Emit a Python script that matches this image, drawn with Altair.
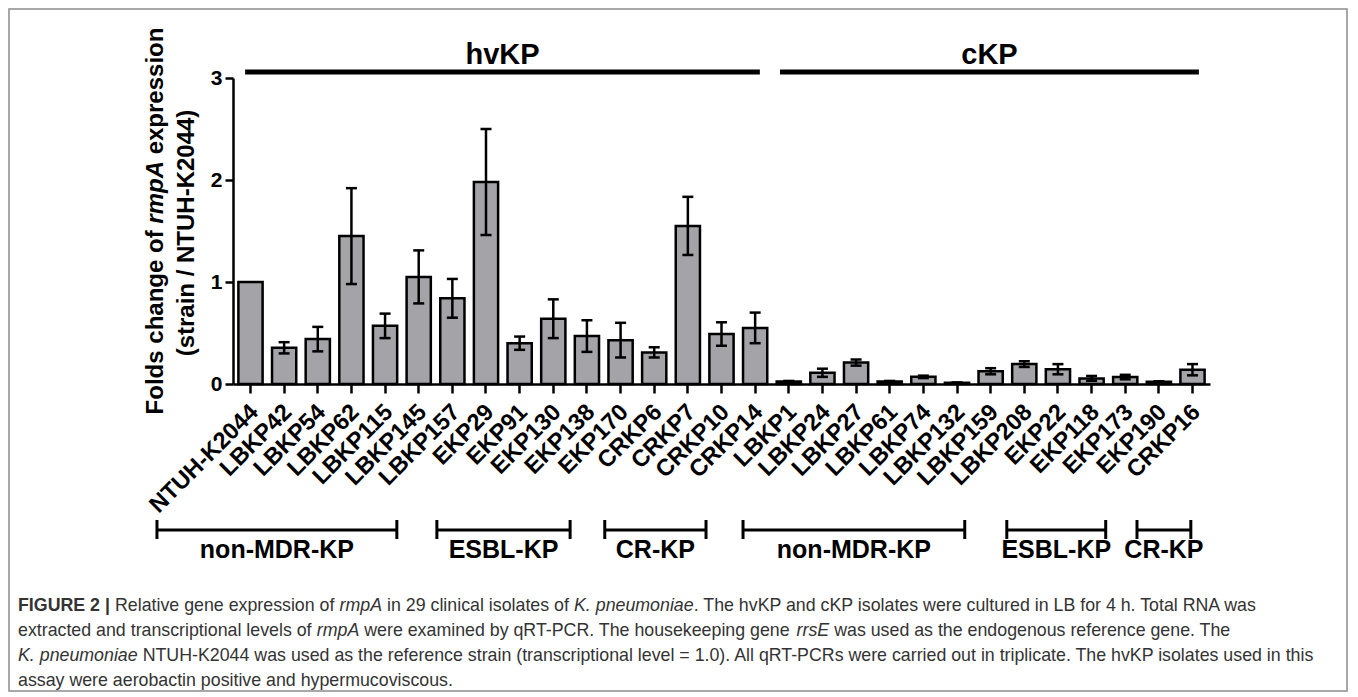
import altair as alt
import pandas as pd

# ---------------- data ----------------
strains = ["NTUH-K2044", "LBKP42", "LBKP54", "LBKP62", "LBKP115", "LBKP145",
           "LBKP157", "EKP29", "EKP91", "EKP130", "EKP138", "EKP170", "CRKP6",
           "CRKP7", "CRKP10", "CRKP14",
           "LBKP1", "LBKP24", "LBKP27", "LBKP61", "LBKP74", "LBKP132", "LBKP159",
           "LBKP208", "EKP22", "EKP118", "EKP173", "EKP190", "CRKP16"]
fold_change = [1.00, 0.355, 0.44, 1.45, 0.57, 1.05, 0.84, 1.98, 0.40, 0.64, 0.47, 0.43, 0.31,
               1.55, 0.49, 0.55,
               0.025, 0.11, 0.21, 0.025, 0.07, 0.012, 0.125, 0.195, 0.145, 0.055, 0.068, 0.022, 0.14]
fold_sd = [0.0, 0.055, 0.12, 0.47, 0.12, 0.26, 0.19, 0.52, 0.065, 0.19, 0.155, 0.17, 0.05,
           0.285, 0.115, 0.15,
           0.005, 0.04, 0.03, 0.005, 0.012, 0.003, 0.03, 0.028, 0.05, 0.024, 0.022, 0.005, 0.055]

# group lines over the bars (positions on the category axis, in bar-index units)
line_names = ["hvKP", "cKP"]
line_start = [-0.16, 15.74]
line_end = [15.14, 28.19]

# brackets under the labels (positions on the category axis, in bar-index units)
bracket_names = ["non-MDR-KP", "ESBL-KP", "CR-KP", "non-MDR-KP", "ESBL-KP", "CR-KP"]
bracket_start = [-2.78, 5.54, 10.53, 14.64, 22.48, 26.35]
bracket_end = [4.35, 9.50, 13.54, 21.23, 25.42, 27.95]

y_ticks = [0, 1, 2, 3]

caption_lines = [
    [("FIGURE 2 | ", "bold"), ("Relative gene expression of ", "regular"), ("rmpA", "italic"),
     (" in 29 clinical isolates of ", "regular"), ("K. pneumoniae", "italic"),
     (". The hvKP and cKP isolates were cultured in LB for 4 h. Total RNA was", "regular")],
    [("extracted and transcriptional levels of ", "regular"), ("rmpA", "italic"),
     (" were examined by qRT-PCR. The housekeeping gene ", "regular"), ("rrsE", "italic"),
     (" was used as the endogenous reference gene. The", "regular")],
    [("K. pneumoniae", "italic"),
     (" NTUH-K2044 was used as the reference strain (transcriptional level = 1.0). All qRT-PCRs were carried out in triplicate. The hvKP isolates used in this", "regular")],
    [("assay were aerobactin positive and hypermucoviscous.", "regular")],
]
ytitle_line1 = [("Folds change of ", "bold"), ("rmpA", "bolditalic"), (" expression", "bold")]
ytitle_line2 = "(strain / NTUH-K2044)"

# ---------------- layout / style ----------------
FONT = "Liberation Sans"
W, H = 977, 306
PAD = {"left": 225, "top": 70, "right": 138, "bottom": 308}
N = len(strains)
P_IN, P_OUT = 0.28, 0.16
OFF = P_OUT + (1 - P_IN) / 2
band = alt.Scale(domain=strains, paddingInner=P_IN, paddingOuter=P_OUT)
idx_scale = alt.Scale(domain=[-OFF, -OFF + N - P_IN + 2 * P_OUT], nice=False, zero=False)
yscale = alt.Scale(domain=[0, 3], nice=False)

# Arial / Liberation Sans advance widths (1/1000 em)
UP = "ABCDEFGHIJKLMNOPQRSTUVWXYZ"
LO = "abcdefghijklmnopqrstuvwxyz"
REG = dict(zip(UP, [667, 667, 722, 722, 667, 611, 778, 722, 278, 500, 667, 556, 833, 722, 778, 667,
                    778, 722, 667, 611, 722, 667, 944, 667, 667, 611]))
REG.update(zip(LO, [556, 556, 500, 556, 556, 278, 556, 556, 222, 222, 500, 222, 833, 556, 556, 556,
                    556, 333, 500, 278, 556, 500, 722, 500, 500, 500]))
REG.update({c: 556 for c in "0123456789"})
REG.update({" ": 278, ".": 278, ",": 278, "-": 333, "(": 333, ")": 333, "=": 584, "|": 260, "/": 278})
BOLD = dict(zip(UP, [722, 722, 722, 722, 667, 611, 778, 722, 278, 556, 722, 611, 833, 722, 778, 667,
                     778, 722, 667, 611, 722, 667, 944, 667, 667, 611]))
BOLD.update(zip(LO, [556, 611, 556, 611, 556, 333, 611, 611, 278, 278, 556, 278, 889, 611, 611, 611,
                     611, 389, 556, 333, 611, 556, 778, 556, 556, 500]))
BOLD.update({c: 556 for c in "0123456789"})
BOLD.update({" ": 278, ".": 278, ",": 278, "-": 333, "(": 333, ")": 333, "=": 584, "|": 280, "/": 278})


def tw(s, style, size):
    table = BOLD if "bold" in style else REG
    return sum(table.get(ch, 556) for ch in s) * size / 1000.0


def layout(segments, size):
    """return list of (offset, text, style) with trimmed texts, and total width"""
    out, pos = [], 0.0
    for text, style in segments:
        core = text.strip(" ")
        lead = len(text) - len(text.lstrip(" "))
        trail = len(text) - len(text.rstrip(" "))
        pos += tw(" " * lead, style, size)
        out.append((pos, core, style))
        pos += tw(core, style, size) + tw(" " * trail, style, size)
    return out, pos


# ---------------- frames ----------------
df = pd.DataFrame({"strain": strains, "value": fold_change, "sd": fold_sd})
df["lo"] = df["value"] - df["sd"]
df["hi"] = df["value"] + df["sd"]
df_err = df[df["sd"] > 0]
df_caps = pd.concat([df_err[["strain", "lo"]].rename(columns={"lo": "yv"}),
                     df_err[["strain", "hi"]].rename(columns={"hi": "yv"})])

df_lines = pd.DataFrame({"name": line_names, "start": line_start, "end": line_end})
df_lines["mid"] = (df_lines["start"] + df_lines["end"]) / 2
df_br = pd.DataFrame({"name": bracket_names, "start": bracket_start, "end": bracket_end})
df_br["mid"] = (df_br["start"] + df_br["end"]) / 2
df_brcaps = pd.DataFrame({"pos": bracket_start + bracket_end})

# caption segments
CAP_SIZE = 17.8
CAP_X0 = -215
CAP_Y = [528, 553, 578, 603]
cap_rows = []
for li, segs in enumerate(caption_lines):
    lay, _ = layout(segs, CAP_SIZE)
    for off, text, style in lay:
        cap_rows.append({"px": CAP_X0 + off, "py": CAP_Y[li], "text": text, "style": style})
df_cap = pd.DataFrame(cap_rows)

# y title segments (rotated, reading bottom to top)
TT_SIZE = 24
lay1, tot1 = layout(ytitle_line1, TT_SIZE)
L1_X, L1_YC = -77, 143
bottom1 = L1_YC + tot1 / 2
tt_rows = [{"px": L1_X, "py": bottom1 - off, "text": text, "style": style} for off, text, style in lay1]
df_tt = pd.DataFrame(tt_rows)
df_tt2 = pd.DataFrame({"px": [-46], "py": [155], "text": [ytitle_line2]})

# ---------------- layers ----------------
x_band_noaxis = alt.X("strain:N", sort=strains, scale=band, axis=None)

frame = alt.Chart(pd.DataFrame({"a": [0]})).mark_rect(
    fillOpacity=0, stroke="#8c8c8c", strokeWidth=1.5
).encode(x=alt.value(-224), x2=alt.value(1114), y=alt.value(-69), y2=alt.value(613))

bars = alt.Chart(df).mark_bar(fill="#a3a3a8", stroke="black", strokeWidth=2.5).encode(
    x=alt.X("strain:N", sort=strains, scale=band,
            axis=alt.Axis(title=None, labelAngle=-45, labelAlign="right", labelBaseline="middle",
                          labelFont=FONT, labelFontSize=23.5, labelFontWeight="bold", labelColor="black",
                          labelPadding=15, labelOffset=4, labelOverlap=False, labelLimit=0,
                          tickSize=9, tickWidth=2.5, tickColor="black",
                          domainWidth=2.5, domainColor="black")),
    y=alt.Y("value:Q", scale=yscale,
            axis=alt.Axis(title=None, values=y_ticks, grid=False, labelFont=FONT, labelFontSize=21,
                          labelFontWeight="bold", labelColor="black", labelPadding=3,
                          tickSize=8, tickWidth=2.5, tickColor="black",
                          domainWidth=2.5, domainColor="black")),
)

err = alt.Chart(df_err).mark_rule(color="black", strokeWidth=2.5).encode(
    x=x_band_noaxis,
    y=alt.Y("lo:Q", scale=yscale, axis=None),
    y2="hi:Q",
)
caps = alt.Chart(df_caps).mark_tick(color="black", thickness=2.5, size=11, opacity=1).encode(
    x=x_band_noaxis,
    y=alt.Y("yv:Q", scale=yscale, axis=None),
)

glines = alt.Chart(df_lines).mark_rule(color="black", strokeWidth=5).encode(
    x=alt.X("start:Q", scale=idx_scale, axis=None),
    x2="end:Q",
    y=alt.value(-6),
)
gtext = alt.Chart(df_lines).mark_text(font=FONT, fontSize=29, fontWeight="bold", color="black",
                                       baseline="middle").encode(
    x=alt.X("mid:Q", scale=idx_scale, axis=None),
    y=alt.value(-23),
    text="name:N",
)

brl = alt.Chart(df_br).mark_rule(color="black", strokeWidth=3).encode(
    x=alt.X("start:Q", scale=idx_scale, axis=None),
    x2="end:Q",
    y=alt.value(452),
)
brc = alt.Chart(df_brcaps).mark_rule(color="black", strokeWidth=3).encode(
    x=alt.X("pos:Q", scale=idx_scale, axis=None),
    y=alt.value(442),
    y2=alt.value(461),
)
brt = alt.Chart(df_br).mark_text(font=FONT, fontSize=25, fontWeight="bold", color="black",
                                  baseline="middle").encode(
    x=alt.X("mid:Q", scale=idx_scale, axis=None),
    y=alt.value(472),
    text="name:N",
)


def text_layer(data, **kw):
    return alt.Chart(data).mark_text(font=FONT, baseline="middle", **kw).encode(
        x=alt.X("px:Q", scale=None, axis=None),
        y=alt.Y("py:Q", scale=None, axis=None),
        text="text:N",
    )


tt_bold = text_layer(df_tt[df_tt["style"] == "bold"], fontSize=TT_SIZE, fontWeight="bold",
                     angle=270, align="left", color="black")
tt_it = text_layer(df_tt[df_tt["style"] == "bolditalic"], fontSize=TT_SIZE, fontWeight="bold",
                   fontStyle="italic", angle=270, align="left", color="black")
tt2 = text_layer(df_tt2, fontSize=TT_SIZE, fontWeight="bold", angle=270, align="center", color="black")

cap_reg = text_layer(df_cap[df_cap["style"] == "regular"], fontSize=CAP_SIZE, align="left", color="#333333")
cap_it = text_layer(df_cap[df_cap["style"] == "italic"], fontSize=CAP_SIZE, align="left",
                    fontStyle="italic", color="#333333")
cap_b = text_layer(df_cap[df_cap["style"] == "bold"], fontSize=CAP_SIZE, align="left",
                   fontWeight="bold", color="#333333")

chart = alt.layer(
    frame, bars, err, caps, glines, gtext, brl, brc, brt,
    tt_bold, tt_it, tt2, cap_reg, cap_it, cap_b
).resolve_scale(
    x="independent", y="independent"
).properties(
    width=W, height=H,
    autosize=alt.AutoSizeParams(type="none"),
    padding=PAD,
).configure_view(stroke=None)

chart.save("out.html", embed_options={"renderer": "svg", "actions": False})
